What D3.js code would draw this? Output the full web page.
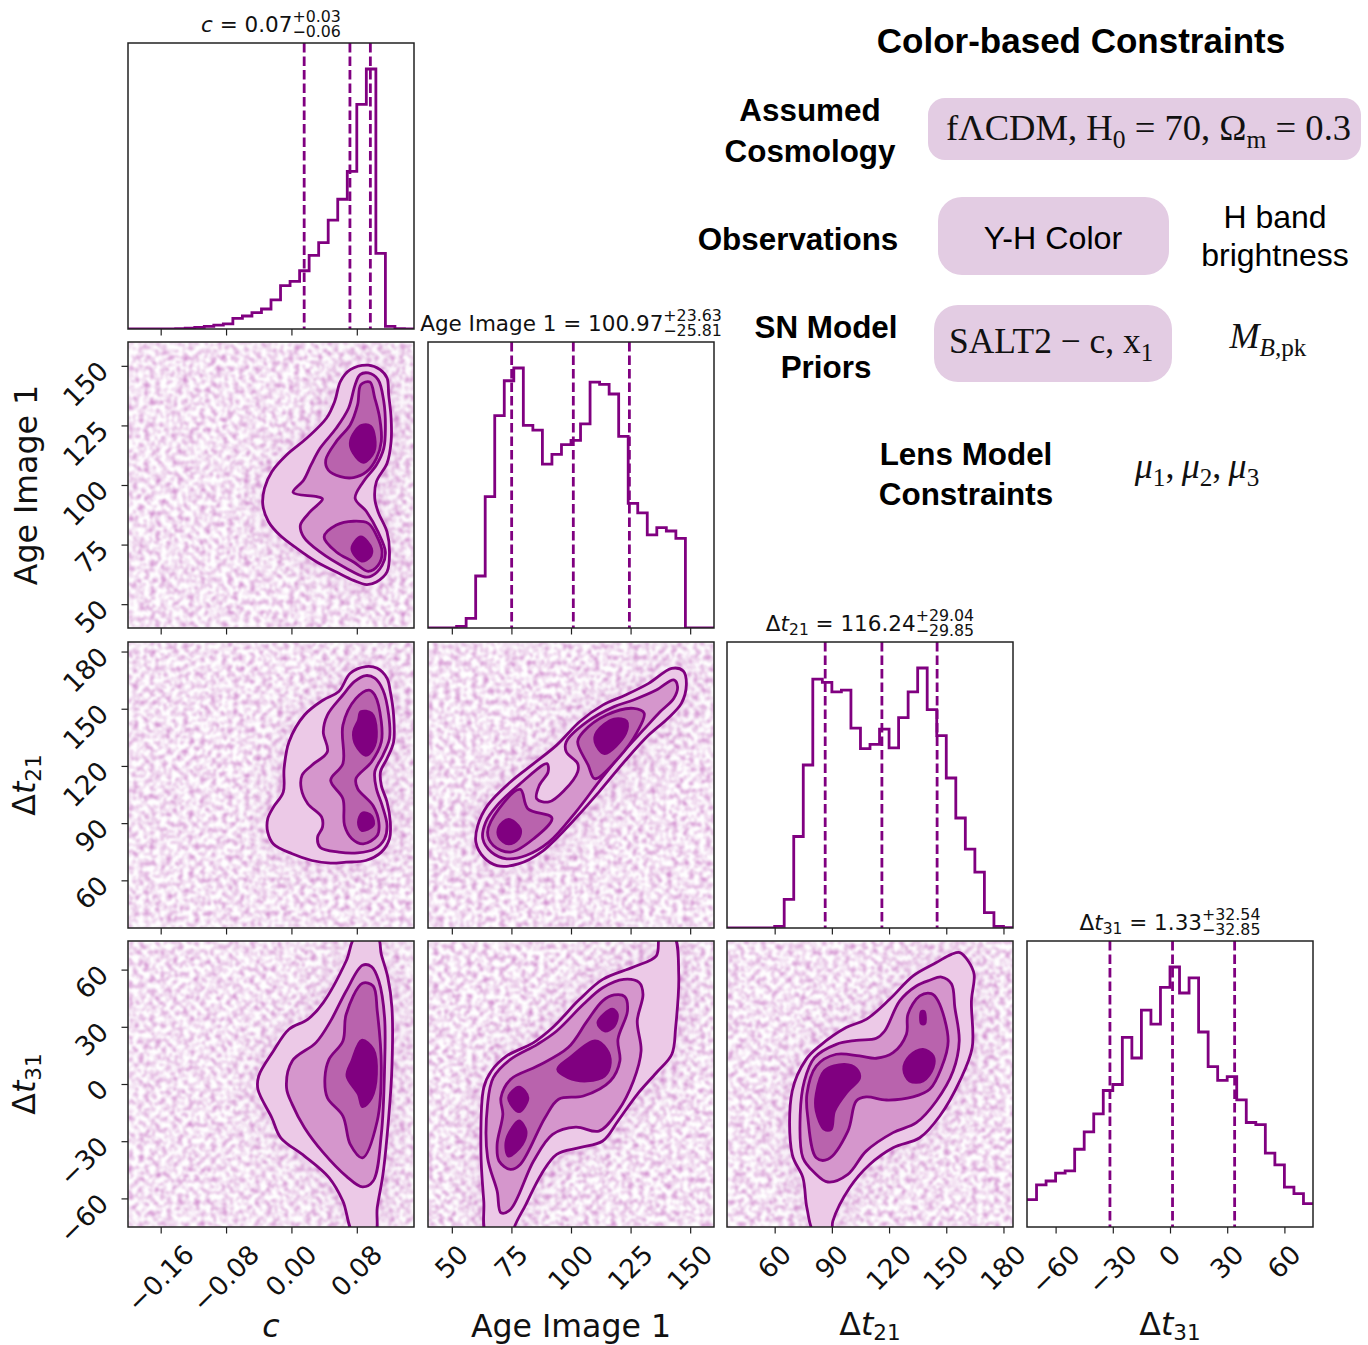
<!DOCTYPE html>
<html><head><meta charset="utf-8">
<script src="https://cdnjs.cloudflare.com/ajax/libs/d3/7.8.5/d3.min.js"></script>
<style>html,body{margin:0;padding:0;background:#fff}svg{display:block}</style>
</head><body><svg id="c" width="1368" height="1345"></svg>
<script>
// ---------- axes ----------
const domC=[-0.2,0.15], domAge=[40,160], domD21=[35,185], domD31=[-75,75];
const ticksC=[-0.16,-0.08,0,0.08], ticksAge=[50,75,100,125,150], ticksD21=[60,90,120,150,180], ticksD31=[-60,-30,0,30,60];
const ticksAgeY=[50,75,100,125,150], ticksD21Y=[60,90,120,150,180], ticksD31Y=[-60,-30,0,30,60];
// ---------- 1D histograms: 30 bins, height as percent of the peak ----------
const histC=[0,0,0,0,0.05,0.1,0.3,0.6,1,1.5,2,4.1,5,6.3,7.7,11.2,16.7,18.3,22.4,28.3,33.2,41.9,49.9,60.6,86.4,100,29.1,1,0.1,0];
const histAge=[0,0,0,0.6,3.7,20,50.5,81.7,95.1,100,77.9,76.1,63,66.8,70.5,72.2,78.5,94.6,93.7,90,73.7,47.9,44.3,35.8,38.6,37.3,34.5,0,0,0];
const histD21=[0,0,0,0,0,0.6,11,35.2,62.7,95.7,94.5,90.8,91.5,76.9,69,70.6,76.5,69.3,80.9,90.8,100,84,74,57.7,42.3,30.3,21.5,5.9,0.6,0.1];
const histD31=[10.5,16.2,17.7,20.7,21.6,29.9,36.6,43.5,52.5,54.8,72.9,65,83.4,78,92.2,100,90,95.8,75,61.7,56.4,57.8,48.9,40.2,39.4,28.4,23.9,15.3,12.8,9];
// ---------- quantile lines ----------
const quantC=[0.0156,0.0716,0.0966], quantAge=[75.1,100.97,124.5], quantD21=[86.5,116.24,145.2], quantD31=[-31.5,1.33,33.9];
// ---------- contours: c vs Age ----------
const cAge1=[[.094,150.3],[.1085,148.4],[.117,144.9],[.119,137.9],[.122,128.1],[.122,118.3],[.117,109.1],[.104,101.4],[.102,94.4],[.106,88.8],[.117,80.3],[.120,71.9],[.117,63.5],[.104,59.3],[.092,58.2],[.076,60],[.055,63.5],[.031,67.7],[.007,73.3],[-.014,78.9],[-.028,84.6],[-.035,91.6],[-.033,98.6],[-.024,105.6],[-.006,112.6],[.019,119.7],[.043,128.1],[.053,135.1],[.060,143.5],[.072,148.4]];
const cAge2=[[.094,147],[.106,144.2],[.113,135.1],[.115,123.9],[.113,115.4],[.104,108.4],[.088,101.4],[.078,94.4],[.092,88.8],[.106,80.3],[.115,71.9],[.111,66.3],[.098,61.8],[.090,61.4],[.068,64.9],[.035,71.9],[.015,78.2],[.011,83.2],[.023,88.8],[.038,94.1],[.031,95.1],[.002,96.9],[.015,102.1],[.024,108.4],[.035,115.4],[.055,123.9],[.070,132.3],[.078,142.1],[.084,146.3]];
const cAge3a=[[.096,143.2],[.102,136.5],[.108,128.1],[.110,118.3],[.104,111.2],[.092,105.6],[.076,103.1],[.060,103.5],[.045,106.3],[.042,110.5],[.055,118.3],[.072,125.3],[.081,133.7],[.085,142.1]];
const cAge3b=[[.040,78.2],[.055,83.2],[.076,84.8],[.094,83.9],[.104,78.9],[.111,71.9],[.106,66.3],[.094,63.8],[.076,67.7],[.055,71.9]];
const cAge4a=[[.086,125],[.097,124.6],[.102,119.7],[.101,114],[.088,109.5],[.076,113.3],[.072,117.6],[.078,122.5]];
const cAge4b=[[.085,78.2],[.098,73.3],[.096,69.8],[.086,68.1],[.074,73.3]];
// ---------- contours: c vs dt21 ----------
const cD211=[[.091,172.1],[.105,171.2],[.117,166],[.121,159],[.125,146.7],[.125,132.6],[.117,123.9],[.109,116.9],[.110,109.8],[.117,101.1],[.121,90.5],[.120,81.8],[.110,74.8],[.091,70.4],[.067,69.5],[.048,69],[.025,70.4],[.001,73.9],[-.022,79.1],[-.029,85.3],[-.029,92.3],[-.022,98.4],[-.010,106.3],[-.009,118.6],[-.003,132.6],[.016,146.7],[.039,154.6],[.058,159],[.072,168.6]];
const cD212=[[.091,167.4],[.102,166],[.112,159.8],[.119,146.7],[.120,134.4],[.112,125.6],[.102,116.9],[.104,108.1],[.111,99.3],[.117,88.8],[.114,81.8],[.102,76.5],[.081,74.4],[.058,74.8],[.035,77.4],[.032,82.7],[.038,87.9],[.037,93.2],[.020,100.2],[.012,108.1],[.013,115.1],[.025,120.4],[.044,127.4],[.039,137.9],[.044,146.7],[.063,157.2],[.077,164.2]];
const cD213=[[.095,159.8],[.102,157.2],[.110,143.2],[.110,132.6],[.098,122.1],[.079,113.3],[.081,108.1],[.100,99.1],[.107,90.3],[.105,83.5],[.088,79.1],[.074,81.8],[.065,88.8],[.063,102.8],[.048,112.5],[.063,121.2],[.063,141.4],[.079,155.4]];
const cD214a=[[.085,148.4],[.098,147.6],[.104,137.9],[.100,129.1],[.091,125.6],[.079,130.9],[.076,137.9],[.082,144]];
const cD214b=[[.087,95.3],[.098,93.7],[.100,88.8],[.086,86.2],[.082,90.5]];
// ---------- contours: Age vs dt21 ----------
const ageD211=[[142.3,171.2],[147.1,169.8],[148.4,162.5],[146.3,152.8],[140.6,144.9],[132.6,136.2],[122.9,123],[111.7,106.3],[100.4,90.5],[87.5,74.8],[77.9,68.6],[69,67.7],[63.4,72.1],[60.1,80],[60.9,88.8],[65,99.3],[74.6,111.6],[84.3,121.2],[94,130.9],[103.6,143.2],[113.3,151.9],[122.9,157.2],[132.6,163.3]];
const ageD212=[[143.1,165.1],[144.7,161.6],[143.1,155.4],[137.4,148.4],[131,139.7],[121.3,126.5],[111.7,111.6],[102,95.8],[90.7,80],[81.1,73],[73,71.3],[66.6,74.8],[63,81.8],[64.2,90.5],[69,99.3],[77.9,109.8],[89.9,121.2],[90.4,116.9],[86.7,109.8],[85.6,102.8],[90.7,101.1],[97.2,107.2],[102.8,116.9],[102.8,121.2],[98,127.4],[98,132.6],[106.8,143.2],[118.1,151.1],[126.2,154.6],[135.8,159.8]];
const ageD213a=[[78.7,107.7],[81.9,97.6],[92,92.7],[84.3,81.8],[74.6,74.8],[67.4,78.3],[65,85.3],[69.8,97.6]];
const ageD213b=[[126.2,150.2],[130.7,147.6],[127.8,137.9],[119.7,123.9],[110,113.3],[107.2,120.4],[102.8,132.6],[105.2,137.9],[114.9,146.7]];
const ageD214a=[[118.1,144.6],[123.3,143.5],[122.9,137],[114.1,126.5],[110.1,132.6],[110.9,137.9]];
const ageD214b=[[73.8,92],[78.7,87],[77.9,81.8],[73.8,79.1],[69.8,82.7],[69.8,87.9]];
// ---------- contours: c vs dt31 ----------
const cD311=[[.079,77.7],[.105,77.7],[.110,68],[.118,55.8],[.123,40.1],[.123,8.6],[.119,-17.7],[.112,-47.4],[.105,-64.9],[.102,-78.9],[.077,-78.9],[.063,-61.4],[.046,-49.1],[.016,-37.8],[-.013,-28.2],[-.024,-17.7],[-.041,-2.8],[-.040,4.2],[-.022,17.3],[-.003,28.7],[.020,33.9],[.039,42.7],[.067,64.5]];
const cD312=[[.087,62.3],[.098,61.6],[.107,54],[.114,34.8],[.114,8.6],[.110,-26.4],[.100,-50.9],[.087,-54],[.067,-48.3],[.039,-36],[.016,-22.9],[.001,-10.7],[-.006,-1.9],[.001,12.1],[.030,21.7],[.048,33.1],[.067,48.8]];
const cD313=[[.087,52.8],[.100,51.4],[.105,38.3],[.110,8.6],[.105,-19.4],[.087,-38.7],[.072,-31.7],[.063,-16.8],[.044,-7.2],[.041,3.3],[.046,12.9],[.063,22.6],[.067,36.6]];
const cD314=[[.086,22.9],[.100,18.2],[.104,5.1],[.098,-7.2],[.087,-11.9],[.082,-5.4],[.068,4.2],[.074,12.1]];
// ---------- contours: Age vs dt31 ----------
const ageD311=[[137.4,77.7],[143.1,77.7],[145.2,57.5],[143.9,29.6],[142.3,15.6],[135.8,5.9],[127.8,-5.4],[119.7,-19.4],[113.3,-29.9],[103.6,-33.4],[94,-36.9],[87.5,-47.4],[81.1,-63.1],[76.2,-75.4],[76.2,-78.9],[64.7,-78.9],[63.4,-61.4],[62.2,-35.2],[63.4,-1.9],[66.6,6.8],[73,14.7],[84.3,21.7],[92.3,29.6],[103.6,44.4],[113.3,54.9],[126.2,61.4],[135.8,67.2]];
const ageD312=[[122.1,54.9],[128.6,53.2],[130.2,47],[127.8,33.1],[129.4,17.3],[126.2,1.6],[119.7,-14.2],[111.7,-24.7],[102,-22.6],[92.3,-26.4],[84.3,-40.4],[74.6,-65.8],[70.6,-67.5],[69,-56.1],[65,-38.7],[65,-10.7],[67.4,3.3],[74.6,12.9],[85.9,20.8],[94,27.8],[105.2,41.8],[113.3,50.5]];
const ageD313=[[118.1,46.7],[122.6,45.8],[123.7,38.3],[119.7,23.4],[120.5,12.1],[116.5,1.6],[105.2,-6.3],[94.8,-8],[89.1,-17.7],[78.7,-42.2],[74.6,-44.8],[69.8,-40.4],[69,-31.7],[71.4,-15.9],[70.6,-7.2],[74.6,2.4],[85.9,9.4],[98.8,19.1],[106.8,33.1],[113.3,43.6]];
const ageD314a=[[117.3,39.2],[119.4,36.6],[118.1,30.4],[114.1,27.8],[111.3,32.2]];
const ageD314b=[[110.1,22.6],[114.9,18.2],[116.5,11.2],[114.1,4.2],[106.8,1.6],[98.8,3.3],[94.4,7.7],[99.6,13.8]];
const ageD314c=[[78.2,-1.6],[81.9,-7.2],[78.2,-14.5],[73.8,-7.2]];
const ageD314d=[[78.2,-19.4],[81.1,-24.7],[79.5,-31.7],[73.8,-37.8],[72.7,-30.8],[75.4,-22.9]];
// ---------- contours: dt21 vs dt31 ----------
const dD1=[[157.1,68.9],[161.5,64.5],[164.6,57.5],[163.2,43.6],[163.6,19.1],[157.1,1.6],[146.6,-16.8],[136.1,-28.2],[122.1,-33.4],[109.8,-42.2],[99.3,-54.4],[90.5,-71.9],[89.6,-78],[80.9,-78],[76.9,-64.9],[74.8,-49.1],[69.2,-36.9],[69.2,-3.7],[76.5,12.9],[83.5,19.9],[97.5,29.6],[108,33.9],[120.3,44.4],[132.6,56.7],[144.8,63.7],[152.7,68]];
const dD2=[[147.5,56.1],[152.7,52.6],[154.5,40.1],[156.8,22.6],[153.6,6.8],[144.8,-8.9],[134.3,-20.3],[122.1,-25.5],[108,-35.2],[98.4,-47.4],[87.9,-51.4],[80.9,-46.5],[74.8,-38.7],[73.4,-15.9],[75.6,1.6],[80.9,13.8],[92.3,20.8],[102.8,22.9],[113.3,24],[117.7,27.8],[125.6,43.6],[134.3,51.4],[141.3,54.4]];
const dD3=[[142.2,47.4],[145.7,43.6],[151,22.6],[147.5,8.6],[141.3,-2.8],[132.6,-6.8],[118.6,-8.4],[108,-6.8],[102.8,-8.9],[98.4,-24.7],[87.9,-39.5],[81.8,-38.7],[77.4,-17.7],[76.9,-5.4],[81.8,9.4],[92.3,15.6],[104.5,14.7],[113.3,13.5],[122.1,16.4],[129.1,26.1],[129.9,36.6],[136.1,46.2]];
const dD4a=[[96.7,10.3],[102.8,8],[104.5,3],[98.4,-3.7],[91.4,-14.2],[89.6,-23.8],[86.1,-23.8],[81.8,-14.2],[81.8,-5.4],[86.1,6.9]];
const dD4b=[[137.8,18.2],[143.1,14.7],[143.1,8.6],[137.8,1.6],[130.8,1.6],[127.7,7.7],[130.8,14.7]];
const dD4c=[[137,38],[138.4,38],[138.7,31.7],[137,31.7]];

// ---------- layout ----------
const colX=[128,428,727,1027], rowY=[43,342,642,941], size=286;
const PURPLE="#800080", INK="#222", LINEW=2.8, TICKFONT=26.5;
const levelFill=["#ecc9e7","#d596cc","#b963ad","#800080"];
const vars=[
 {dom:domC,ticks:ticksC,hist:histC,q:quantC,fmt:d3.format(".2f"),yticks:null},
 {dom:domAge,ticks:ticksAge,hist:histAge,q:quantAge,fmt:d3.format("d"),yticks:ticksAgeY},
 {dom:domD21,ticks:ticksD21,hist:histD21,q:quantD21,fmt:d3.format("d"),yticks:ticksD21Y},
 {dom:domD31,ticks:ticksD31,hist:histD31,q:quantD31,fmt:d3.format("d"),yticks:ticksD31Y}
];
const panels2D=[
 {i:0,j:1,levels:[[cAge1],[cAge2],[cAge3a,cAge3b],[cAge4a,cAge4b]],seed:3},
 {i:0,j:2,levels:[[cD211],[cD212],[cD213],[cD214a,cD214b]],seed:8},
 {i:1,j:2,levels:[[ageD211],[ageD212],[ageD213a,ageD213b],[ageD214a,ageD214b]],seed:13},
 {i:0,j:3,levels:[[cD311],[cD312],[cD313],[cD314]],seed:21},
 {i:1,j:3,levels:[[ageD311],[ageD312],[ageD313],[ageD314a,ageD314b,ageD314c,ageD314d]],seed:34},
 {i:2,j:3,levels:[[dD1],[dD2],[dD3],[dD4a,dD4b,dD4c]],seed:55}
];
const svg=d3.select("#c");
const defs=svg.append("defs");
defs.append("filter").attr("id","halo").attr("x","-30%").attr("y","-30%").attr("width","160%").attr("height","160%")
  .append("feGaussianBlur").attr("stdDeviation",16);

function speckFilter(seed){
  const f=defs.append("filter").attr("id","speck"+seed).attr("x",0).attr("y",0).attr("width",1).attr("height",1)
    .attr("color-interpolation-filters","sRGB");
  f.append("feTurbulence").attr("type","fractalNoise").attr("baseFrequency",0.18).attr("numOctaves",2).attr("seed",seed);
  f.append("feColorMatrix").attr("type","matrix").attr("values","0 0 0 0 0.7  0 0 0 0 0.25  0 0 0 0 0.68  1.3 0 0 0 -0.5");
  f.append("feGaussianBlur").attr("stdDeviation",1.1);
}
function xScale(k){return d3.scaleLinear().domain(vars[k].dom).range([colX[k],colX[k]+size]);}
function yScale(k){return d3.scaleLinear().domain(vars[k].dom).range([rowY[k]+size,rowY[k]]);}

function clip(id,x,y){
  defs.append("clipPath").attr("id",id).append("rect").attr("x",x).attr("y",y).attr("width",size).attr("height",size);
}
function frame(x,y){
  svg.append("rect").attr("x",x).attr("y",y).attr("width",size).attr("height",size)
    .attr("fill","none").attr("stroke",INK).attr("stroke-width",1.5);
}
function xAxis(k,row,labelled){
  const g=svg.append("g").attr("transform",`translate(0,${rowY[row]+size})`)
    .call(d3.axisBottom(xScale(k)).tickValues(vars[k].ticks).tickSize(6.5).tickSizeOuter(0).tickFormat(vars[k].fmt));
  g.select(".domain").remove();
  g.selectAll("line").attr("stroke",INK).attr("stroke-width",1.2);
  if(labelled){
    g.selectAll("text").attr("fill","#111").attr("font-family","DejaVu Sans").attr("font-size",TICKFONT)
      .attr("text-anchor","middle").attr("dominant-baseline","central").attr("y",0).attr("dy",0)
      .attr("transform",function(){const L=this.getComputedTextLength();const off=16+(L+19)/(2*Math.SQRT2);return `translate(-1,${off}) rotate(-45)`;});
  } else g.selectAll("text").remove();
}
function yAxis(k,col){
  const g=svg.append("g").attr("transform",`translate(${colX[col]},0)`)
    .call(d3.axisLeft(yScale(k)).tickValues(vars[k].yticks).tickSize(6.5).tickSizeOuter(0).tickFormat(vars[k].fmt));
  g.select(".domain").remove();
  g.selectAll("line").attr("stroke",INK).attr("stroke-width",1.2);
  // rotated labels hang from the tick: the top of each label sits just above the tick height
  g.selectAll("text").attr("fill","#111").attr("font-family","DejaVu Sans").attr("font-size",TICKFONT)
    .attr("text-anchor","middle").attr("dominant-baseline","central").attr("x",0).attr("dy",0)
    .attr("transform",function(){const L=this.getComputedTextLength();const half=(L+19)/(2*Math.SQRT2);return `translate(${-(18+half)},${half-7}) rotate(-45)`;});
}
const contourPath=(x,y)=>d3.line().x(d=>x(d[0])).y(d=>y(d[1])).curve(d3.curveCatmullRomClosed.alpha(0.5));

// 2D panels
panels2D.forEach(p=>{
  const x=xScale(p.i), y=yScale(p.j), id=`clip${p.i}${p.j}`;
  const px=colX[p.i], py=rowY[p.j];
  clip(id,px,py); speckFilter(p.seed);
  const g=svg.append("g").attr("clip-path",`url(#${id})`);
  const line=contourPath(x,y);
  g.append("g").attr("filter","url(#halo)").append("path").attr("d",line(p.levels[0][0])).attr("fill",PURPLE).attr("opacity",0.16);
  g.append("rect").attr("x",px).attr("y",py).attr("width",size).attr("height",size).attr("fill","#fff").attr("filter",`url(#speck${p.seed})`);
  p.levels.forEach((polys,l)=>{
    polys.forEach(poly=>{
      g.append("path").attr("d",line(poly)).attr("fill",levelFill[l]).attr("stroke",PURPLE).attr("stroke-width",LINEW).attr("stroke-linejoin","round");
    });
  });
  frame(px,py);
  xAxis(p.i,p.j,p.j===3);
  if(p.i===0) yAxis(p.j,0);
});

// 1D panels
vars.forEach((v,k)=>{
  const px=colX[k], py=rowY[k], id=`clipd${k}`, x=xScale(k);
  clip(id,px,py);
  const yh=d3.scaleLinear().domain([0,110]).range([py+size,py]);
  const w=(v.dom[1]-v.dom[0])/v.hist.length;
  const pts=v.hist.map((h,b)=>[v.dom[0]+b*w,h]); pts.push([v.dom[1],v.hist[v.hist.length-1]]);
  const g=svg.append("g").attr("clip-path",`url(#${id})`);
  g.append("path").attr("d",d3.line().x(d=>x(d[0])).y(d=>yh(d[1])).curve(d3.curveStepAfter)(pts))
    .attr("fill","none").attr("stroke",PURPLE).attr("stroke-width",LINEW);
  g.selectAll("line.q").data(v.q).join("line").attr("class","q")
    .attr("x1",d=>x(d)).attr("x2",d=>x(d)).attr("y1",py).attr("y2",py+size)
    .attr("stroke",PURPLE).attr("stroke-width",LINEW).attr("stroke-dasharray","9.5 4");
  frame(px,py);
  xAxis(k,k,k===3);
});

// names with math styling; returns the baseline shift still in force
function mathName(sel,name,size0,subSize,drop){
  if(name==="c"){sel.append("tspan").attr("font-style","italic").text("c");return 0;}
  if(name==="Age"){sel.append("tspan").text("Age Image 1");return 0;}
  sel.append("tspan").text("Δ");
  sel.append("tspan").attr("font-style","italic").text("t");
  sel.append("tspan").attr("font-size",subSize).attr("dy",drop).text(name);
  return drop;
}
const titleNames=["c","Age","21","31"], titleVals=["0.07","100.97","116.24","1.33"];
const titleUp=["+0.03","+23.63","+29.04","+32.54"], titleDown=["−0.06","−25.81","−29.85","−32.85"];
titleNames.forEach((n,k)=>{
  const top=rowY[k], g=svg.append("g").attr("font-family","DejaVu Sans").attr("fill","#111");
  const t=g.append("text").attr("y",top-11.5).attr("font-size",21.5);
  const sh=mathName(t,n,21.5,15.5,4.3);
  t.append("tspan").attr("dy",-sh).text(" = "+titleVals[k]);
  const L=t.node().getComputedTextLength();
  const a=g.append("text").attr("x",L).attr("y",top-21.5).attr("font-size",15.8).text(titleUp[k]);
  const b=g.append("text").attr("x",L).attr("y",top-6).attr("font-size",15.8).text(titleDown[k]);
  const W=L+Math.max(a.node().getComputedTextLength(),b.node().getComputedTextLength());
  g.attr("transform",`translate(${colX[k]+size/2-W/2},0)`);
});
// axis labels
titleNames.forEach((n,k)=>{
  const t=svg.append("text").attr("font-family","DejaVu Sans").attr("font-size",31.6).attr("fill","#111")
    .attr("text-anchor","middle").attr("x",colX[k]+size/2).attr("y",1337-(k>1?2:0));
  mathName(t,n,31.6,21.5,4.5);
  if(k>0){
    const ty=svg.append("text").attr("font-family","DejaVu Sans").attr("font-size",31.6).attr("fill","#111")
     .attr("text-anchor","middle").attr("transform",`translate(${k>1?35:37},${rowY[k]+size/2}) rotate(-90)`);
    mathName(ty,n,31.6,21.5,6);
  }
});

// text panel on the right
const SANS="Liberation Sans", SERIF="Liberation Serif";
const boxes=[{x:928,y:98,w:433,h:62,r:17},{x:938,y:197,w:231,h:78,r:24},{x:934,y:305,w:238,h:77,r:24}];
svg.append("g").selectAll("rect").data(boxes).join("rect")
  .attr("x",d=>d.x).attr("y",d=>d.y).attr("width",d=>d.w).attr("height",d=>d.h).attr("rx",d=>d.r).attr("fill","#e3cce3");
const labels=[
 {t:"Color-based Constraints",x:1081,y:53,s:35,b:1},
 {t:"Assumed",x:810,y:121,s:31.4,b:1},{t:"Cosmology",x:810,y:162,s:31.4,b:1},
 {t:"Observations",x:798,y:250,s:31.4,b:1},
 {t:"SN Model",x:826,y:338,s:31.4,b:1},{t:"Priors",x:826,y:378,s:31.4,b:1},
 {t:"Lens Model",x:966,y:465,s:31.4,b:1},{t:"Constraints",x:966,y:505,s:31.4,b:1},
 {t:"Y-H Color",x:1053,y:249,s:32.2,b:0},
 {t:"H band",x:1275,y:228,s:32,b:0},{t:"brightness",x:1275,y:266,s:32,b:0}
];
svg.append("g").selectAll("text").data(labels).join("text").text(d=>d.t)
  .attr("x",d=>d.x).attr("y",d=>d.y).attr("font-size",d=>d.s).attr("font-family",SANS)
  .attr("font-weight",d=>d.b?"bold":"normal").attr("text-anchor","middle").attr("fill","#000");
function rich(x,y,size,anchor,parts){
  const t=svg.append("text").attr("x",x).attr("y",y).attr("font-family",SERIF).attr("font-size",size).attr("text-anchor",anchor).attr("fill","#111");
  let shift=0;
  parts.forEach(p=>{
    const s=t.append("tspan").text(p.t);
    if(p.i) s.attr("font-style","italic");
    const want=p.sub?size*0.22:0;
    if(want!==shift){s.attr("dy",want-shift);shift=want;}
    if(p.sub) s.attr("font-size",size*0.7);
  });
}
rich(946,140,36.6,"start",[{t:"fΛCDM, H"},{t:"0",sub:1},{t:" = 70, Ω"},{t:"m",sub:1},{t:" = 0.3"}]);
rich(949,353,35.4,"start",[{t:"SALT2 − c, x"},{t:"1",sub:1}]);
rich(1268,348,36,"middle",[{t:"M",i:1},{t:"B,",i:1,sub:1},{t:"pk",sub:1}]);
rich(1197,478,36,"middle",[{t:"μ",i:1},{t:"1",sub:1},{t:",\u2009"},{t:"μ",i:1},{t:"2",sub:1},{t:",\u2009"},{t:"μ",i:1},{t:"3",sub:1}]);
</script></body></html>
